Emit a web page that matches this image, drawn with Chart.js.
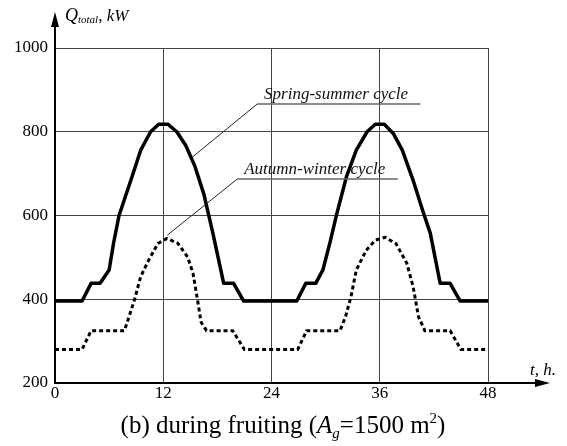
<!DOCTYPE html>
<html>
<head>
<meta charset="utf-8">
<script src="https://cdn.jsdelivr.net/npm/chart.js@4.4.1/dist/chart.umd.min.js"></script>
<style>
  html, body { margin: 0; padding: 0; background: #fff; }
</style>
</head>
<body>
<canvas id="chart" width="567" height="446"></canvas>
<script>
// heat demand over two days (t in hours, Q in kW)
const springHours = [0, 3, 4, 5, 6, 6.5, 7.1, 8.5, 9.5, 10.6, 11.5, 12.5, 13.5, 14.5, 15.5, 16.5, 17.5, 18.7, 19.8,
    20.9, 26.8, 27.8, 28.9, 29.7, 30.5, 31.2, 32.3, 33.4, 34.6, 35.5, 36.5, 37.5, 38.5, 39.7, 40.8, 41.6, 42.7, 43.8, 44.9, 48];
const springLoad = [396, 396, 438, 438, 470, 535, 600, 690, 756, 800, 818, 818, 800, 767, 718, 651, 558, 438, 438,
    396, 396, 438, 438, 470, 537, 601, 692, 756, 800, 818, 818, 796, 756, 684, 609, 558, 438, 438, 396, 396];

const autumnHours = [0, 3, 4, 7.7, 8.2, 8.8, 9.5, 10.4, 11.4, 12.4, 13.6, 14.7, 15.3, 15.8, 16.2, 16.8, 19.7, 21,
    26.9, 27.9, 31.6, 32.2, 32.8, 33.4, 34.5, 35.5, 36.6, 37.8, 39, 39.7, 40.3, 41, 43.8, 45, 48];
const autumnLoad = [280, 280, 325, 325, 358, 398, 454, 494, 533, 545, 534, 501, 462, 398, 345, 325, 325, 280,
    280, 325, 325, 358, 405, 470, 517, 541, 548, 533, 486, 430, 358, 325, 325, 280, 280];

const xTicks = [0, 12, 24, 36, 48];
const yTicks = [200, 400, 600, 800, 1000];

const serif = '"Liberation Serif", "DejaVu Serif", serif';

// where the two callout labels sit (data units)
const springNote = { text: 'Spring-summer cycle', from: [15.2, 739], to: [22.4, 866], end: 40.5 };
const autumnNote = { text: 'Autumn-winter cycle', from: [12.45, 553], to: [20.2, 687], end: 38.0 };

function drawRuns(ctx, x, y, runs, align) {
    let total = 0;
    runs.forEach(r => { ctx.font = r.font; r.w = ctx.measureText(r.text).width; total += r.w; });
    let cx = align === 'center' ? x - total / 2 : x;
    ctx.textAlign = 'left';
    ctx.textBaseline = 'alphabetic';
    runs.forEach(r => {
        ctx.font = r.font;
        ctx.fillText(r.text, cx, y + (r.dy || 0));
        cx += r.w;
    });
}

const extras = {
    id: 'extras',
    afterDraw(chart) {
        const ctx = chart.ctx;
        const area = chart.chartArea;
        const xs = chart.scales.x, ys = chart.scales.y;
        ctx.save();
        ctx.fillStyle = '#000';
        ctx.strokeStyle = '#000';

        // axis arrows
        ctx.lineWidth = 2;
        ctx.beginPath();
        ctx.moveTo(area.left, area.top);
        ctx.lineTo(area.left, 22);
        ctx.moveTo(area.right, area.bottom);
        ctx.lineTo(540, area.bottom);
        ctx.stroke();
        ctx.beginPath();
        ctx.moveTo(area.left, 12);
        ctx.lineTo(area.left - 4, 27);
        ctx.lineTo(area.left + 4, 27);
        ctx.closePath();
        ctx.fill();
        ctx.beginPath();
        ctx.moveTo(550, area.bottom);
        ctx.lineTo(535, area.bottom - 4);
        ctx.lineTo(535, area.bottom + 4);
        ctx.closePath();
        ctx.fill();

        // axis names
        drawRuns(ctx, 65, 21, [
            { text: 'Q', font: 'italic 18px ' + serif },
            { text: 'total', font: 'italic 11px ' + serif, dy: 2 },
            { text: ', kW', font: 'italic 17px ' + serif }
        ]);
        drawRuns(ctx, 530, 375, [{ text: 't, h.', font: 'italic 17px ' + serif }]);

        // callouts
        [springNote, autumnNote].forEach(n => {
            const x0 = xs.getPixelForValue(n.from[0]), y0 = ys.getPixelForValue(n.from[1]);
            const x1 = xs.getPixelForValue(n.to[0]), y1 = ys.getPixelForValue(n.to[1]);
            const x2 = xs.getPixelForValue(n.end);
            ctx.strokeStyle = '#222';
            ctx.lineWidth = 1;
            ctx.beginPath();
            ctx.moveTo(x0, y0);
            ctx.lineTo(x1, y1);
            ctx.stroke();
            ctx.strokeStyle = '#666';
            ctx.lineWidth = 1.5;
            ctx.beginPath();
            ctx.moveTo(x1, y1);
            ctx.lineTo(x2, y1);
            ctx.stroke();
            ctx.fillStyle = '#111';
            drawRuns(ctx, x1 + 7, y1 - 5, [{ text: n.text, font: 'italic 17px ' + serif }]);
        });

        // caption
        ctx.fillStyle = '#000';
        drawRuns(ctx, 283, 433, [
            { text: '(b) during fruiting (', font: '25px ' + serif },
            { text: 'A', font: 'italic 25px ' + serif },
            { text: 'g', font: 'italic 15px ' + serif, dy: 5 },
            { text: '=1500 m', font: '25px ' + serif },
            { text: '2', font: '15px ' + serif, dy: -10 },
            { text: ')', font: '25px ' + serif }
        ], 'center');
        ctx.restore();
    }
};

new Chart(document.getElementById('chart'), {
    type: 'line',
    data: {
        datasets: [
            {
                label: 'Spring-summer cycle',
                data: springHours.map((h, i) => ({ x: h, y: springLoad[i] })),
                borderColor: '#000',
                borderWidth: 3.5,
                borderJoinStyle: 'round',
                pointRadius: 0,
                tension: 0
            },
            {
                label: 'Autumn-winter cycle',
                data: autumnHours.map((h, i) => ({ x: h, y: autumnLoad[i] })),
                borderColor: '#000',
                borderWidth: 3,
                borderDash: [4, 3],
                pointRadius: 0,
                tension: 0
            }
        ]
    },
    options: {
        responsive: false,
        animation: false,
        events: [],
        layout: { padding: { top: 48, right: 79, left: 0, bottom: 0 } },
        plugins: {
            legend: { display: false },
            tooltip: { enabled: false }
        },
        scales: {
            x: {
                type: 'linear',
                min: 0,
                max: 48,
                afterBuildTicks: s => { s.ticks = xTicks.map(v => ({ value: v })); },
                afterFit: s => { s.height = 63; },
                grid: {
                    drawTicks: false,
                    lineWidth: 1,
                    color: c => (c.tick && c.tick.value === 0) ? 'rgba(0,0,0,0)' : '#444'
                },
                border: { color: '#000', width: 2 },
                ticks: {
                    color: '#000', padding: 0, maxRotation: 0,
                    font: { family: serif, size: 17 },
                    callback: v => String(v)
                }
            },
            y: {
                min: 200,
                max: 1000,
                afterBuildTicks: s => { s.ticks = yTicks.map(v => ({ value: v })); },
                afterFit: s => { s.width = 55; },
                grid: {
                    drawTicks: false,
                    lineWidth: 1,
                    color: c => (c.tick && c.tick.value === 200) ? 'rgba(0,0,0,0)' : '#444'
                },
                border: { color: '#000', width: 2 },
                ticks: {
                    color: '#000', padding: 7,
                    font: { family: serif, size: 17 },
                    callback: v => String(v)
                }
            }
        }
    },
    plugins: [extras]
});
</script>
</body>
</html>
